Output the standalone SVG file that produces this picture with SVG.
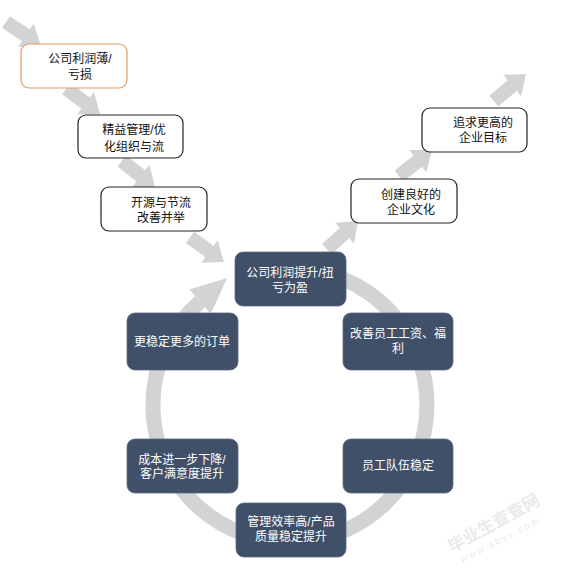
<svg xmlns="http://www.w3.org/2000/svg" width="569" height="570" viewBox="0 0 569 570">
<defs>
<style>
.t{font-family:"Liberation Sans","Noto Sans CJK SC",sans-serif;font-size:12px;text-anchor:middle}
.dk{fill:#ffffff}
.bk{fill:#111111}
.wbox{fill:#ffffff;stroke:#222222;stroke-width:1.2}
.dbox{fill:#415069;stroke:#5a6880;stroke-width:0.8}
.arr{fill:#d2d3d5}
.wm{font-family:"Liberation Sans","Noto Sans CJK SC",sans-serif;fill:#cccccc;opacity:0.4}
</style>
<path id="ba" d="M0,-7 L24,-7 L24,-14 L42,0 L24,14 L24,7 L0,7 Z"/>
</defs>
<rect width="569" height="570" fill="#ffffff"/>
<g id="connectors">
<use href="#ba" class="arr" transform="translate(6,22) rotate(34)"/>
<use href="#ba" class="arr" transform="translate(66.4,88.7) rotate(37)"/>
<use href="#ba" class="arr" transform="translate(121.9,161.1) rotate(38)"/>
<use href="#ba" class="arr" transform="translate(190,237.3) rotate(36)"/>
<use href="#ba" class="arr" transform="translate(326.8,249.1) rotate(-42)"/>
<use href="#ba" class="arr" transform="translate(398.9,175.9) rotate(-38)"/>
<use href="#ba" class="arr" transform="translate(493.8,101) rotate(-40)"/>
<path d="M313.8,270.1 A137,137 0 1 1 200.1,301.6" fill="none" stroke="#d2d3d5" stroke-width="15"/>
<polygon points="189.5,289.4 210.7,313.8 227.3,278" fill="#d2d3d5"/>
</g>
<g id="n1"><rect x="21" y="44" width="106" height="44" rx="8" fill="#ffffff" stroke="#e39a62" stroke-width="1.2"/>
<text class="t bk" x="80" y="63">公司利润薄/</text><text class="t bk" x="80" y="79">亏损</text></g>
<g id="n2"><rect class="wbox" x="78" y="115" width="105" height="43" rx="8"/>
<text class="t bk" x="134" y="134">精益管理/优</text><text class="t bk" x="134" y="151">化组织与流</text></g>
<g id="n3"><rect class="wbox" x="101" y="187" width="106" height="44" rx="8"/>
<text class="t bk" x="161" y="207">开源与节流</text><text class="t bk" x="161" y="222">改善并举</text></g>
<g id="n4"><rect class="wbox" x="351" y="179" width="106" height="44" rx="8"/>
<text class="t bk" x="411" y="199">创建良好的</text><text class="t bk" x="411" y="214">企业文化</text></g>
<g id="n5"><rect class="wbox" x="422" y="108" width="105" height="44" rx="8"/>
<text class="t bk" x="483" y="127">追求更高的</text><text class="t bk" x="483" y="142">企业目标</text></g>
<g id="c1"><rect class="dbox" x="235" y="252" width="111" height="54" rx="8"/>
<text class="t dk" x="290" y="277">公司利润提升/扭</text><text class="t dk" x="290" y="292">亏为盈</text></g>
<g id="c2"><rect class="dbox" x="343" y="313" width="110" height="57" rx="8"/>
<text class="t dk" x="398" y="338">改善员工工资、福</text><text class="t dk" x="398" y="353">利</text></g>
<g id="c3"><rect class="dbox" x="343" y="439" width="110" height="54" rx="8"/>
<text class="t dk" x="398" y="470">员工队伍稳定</text></g>
<g id="c4"><rect class="dbox" x="236" y="503" width="110" height="54" rx="8"/>
<text class="t dk" x="291" y="526">管理效率高/产品</text><text class="t dk" x="291" y="541">质量稳定提升</text></g>
<g id="c5"><rect class="dbox" x="127" y="439" width="111" height="54" rx="8"/>
<text class="t dk" x="182" y="464">成本进一步下降/</text><text class="t dk" x="182" y="478">客户满意度提升</text></g>
<g id="c6"><rect class="dbox" x="127" y="313" width="111" height="57" rx="8"/>
<text class="t dk" x="182" y="346">更稳定更多的订单</text></g>
<g id="watermark">
<text class="wm" font-size="17" font-weight="bold" transform="translate(452,553) rotate(-29)">毕业生查查网</text>
<text class="wm" font-size="10" letter-spacing="2" transform="translate(462,563) rotate(-27)">www.sbvv.com</text>
</g>
</svg>
